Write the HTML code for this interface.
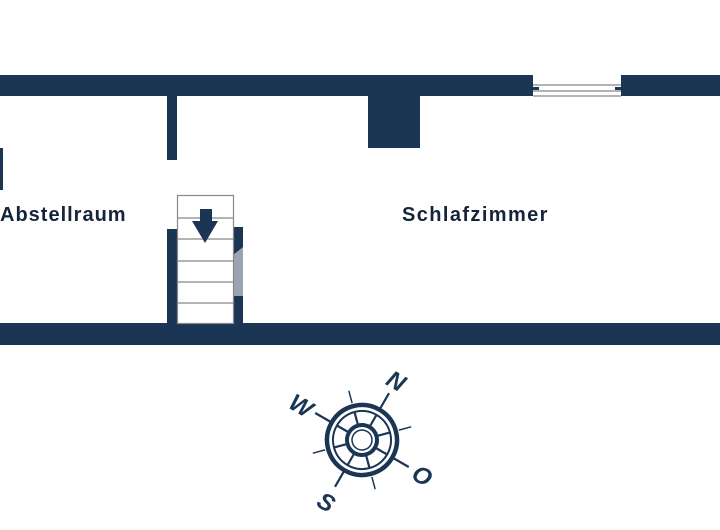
<!DOCTYPE html>
<html><head><style>body{margin:0;background:#fff}svg{display:block}</style></head><body>
<svg width="720" height="530" viewBox="0 0 720 530" xmlns="http://www.w3.org/2000/svg">
<g fill="#1b3555">
<rect x="0" y="75" width="533" height="21"/>
<rect x="621" y="75" width="99" height="21"/>
<rect x="0" y="323" width="720" height="22"/>
<rect x="167" y="96" width="10" height="64"/>
<rect x="368" y="96" width="52" height="52"/>
<rect x="0" y="148" width="3" height="42"/>
<rect x="167" y="229" width="10" height="94"/>
<rect x="233" y="227" width="10" height="96"/>
</g>
<polygon points="233,255 243,247 243,296 233,296" fill="#9aa3b0"/>
<g stroke="#888" stroke-width="1.2" fill="none">
<line x1="533" y1="85" x2="621" y2="85"/><line x1="533" y1="91" x2="621" y2="91"/><line x1="533" y1="96" x2="621" y2="96"/>
<rect x="177.5" y="195.5" width="56" height="128"/>
<line x1="177" y1="218" x2="233" y2="218"/><line x1="177" y1="239" x2="233" y2="239"/><line x1="177" y1="261" x2="233" y2="261"/><line x1="177" y1="282" x2="233" y2="282"/><line x1="177" y1="303" x2="233" y2="303"/>
</g>
<rect x="533" y="87" width="6" height="3" fill="#1b3555"/><rect x="615" y="87" width="6" height="3" fill="#1b3555"/>
<polygon points="200,209 212,209 212,221 218,221 205,243 192,221 200,221" fill="#1b3555"/>
<g font-family="Liberation Sans, sans-serif" font-weight="bold" font-size="20" fill="#16243a">
<text x="0" y="221" letter-spacing="1">Abstellraum</text>
<text x="402" y="221" letter-spacing="1.4">Schlafzimmer</text>
</g>
<g transform="translate(362,440) rotate(30)" stroke="#1b3555" fill="none">
<circle r="35" stroke-width="4.5"/><circle r="29" stroke-width="2"/>
<circle r="15" stroke-width="4"/><circle r="10" stroke-width="1.5"/>
<g stroke-width="2.2">
<line x1="0" y1="-15" x2="0" y2="-29"/><line x1="0" y1="15" x2="0" y2="29"/><line x1="-15" y1="0" x2="-29" y2="0"/><line x1="15" y1="0" x2="29" y2="0"/>
<line x1="11" y1="-11" x2="20" y2="-20"/><line x1="-11" y1="-11" x2="-20" y2="-20"/><line x1="11" y1="11" x2="20" y2="20"/><line x1="-11" y1="11" x2="-20" y2="20"/>
<line x1="0" y1="-35" x2="0" y2="-54"/><line x1="0" y1="35" x2="0" y2="54"/><line x1="-35" y1="0" x2="-54" y2="0"/><line x1="35" y1="0" x2="54" y2="0"/>
</g>
<g stroke-width="1.5">
<line x1="27" y1="-27" x2="36" y2="-36"/><line x1="-27" y1="-27" x2="-36" y2="-36"/><line x1="27" y1="27" x2="36" y2="36"/><line x1="-27" y1="27" x2="-36" y2="36"/>
</g>
<g fill="#1b3555" stroke="none" font-family="Liberation Sans, sans-serif" font-weight="bold" font-style="italic" font-size="24" text-anchor="middle">
<text x="0" y="-60">N</text>
<text x="0" y="80">S</text>
<text x="-70" y="9">W</text>
<text x="70" y="9">O</text>
</g>
</g>
</svg>
</body></html>
